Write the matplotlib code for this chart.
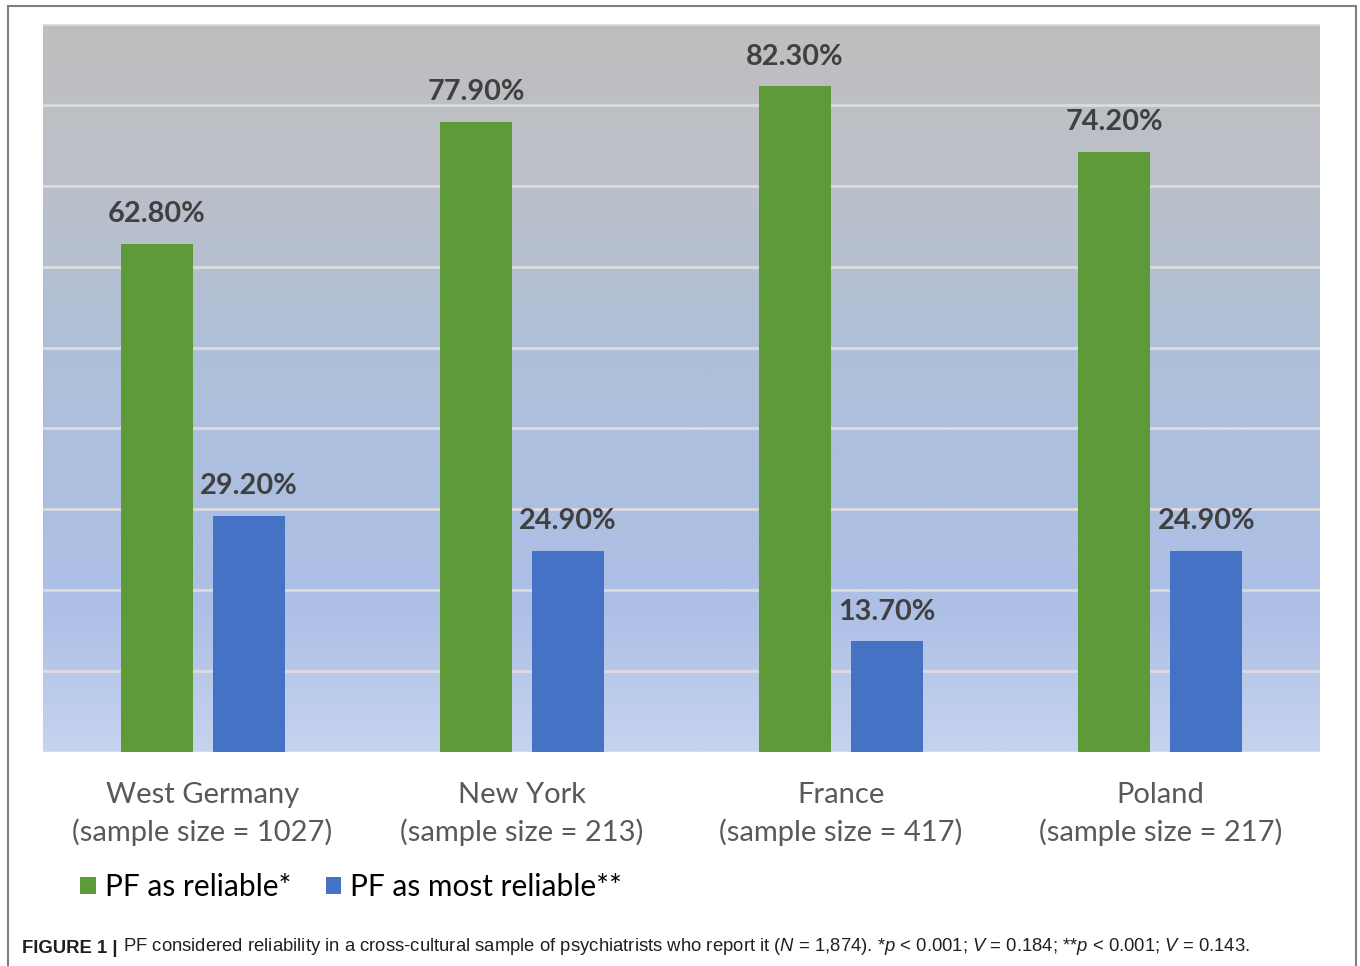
import numpy as np
import matplotlib.pyplot as plt
from matplotlib.colors import LinearSegmentedColormap
from matplotlib.patches import Rectangle

plt.rcParams['mathtext.fontset'] = 'custom'
plt.rcParams['mathtext.rm'] = 'Liberation Sans'
plt.rcParams['mathtext.it'] = 'Liberation Sans:italic'

# Data
regions = ['West Germany', 'New York', 'France', 'Poland']
sample_sizes = [1027, 213, 417, 217]
reliable = [62.8, 77.9, 82.3, 74.2]
most_reliable = [29.2, 24.9, 13.7, 24.9]
series_names = ['PF as reliable*', 'PF as most reliable**']

green = '#5f9a3a'
blue = '#4472c4'
label_font = 'Lato'

fig = plt.figure(figsize=(13.6, 9.66), dpi=100)
ax = fig.add_axes([43 / 1360, 1 - 752 / 966, 1277 / 1360, 728 / 966])

# gradient background (gray top -> blue -> light blue bottom)
cmap = LinearSegmentedColormap.from_list('bg', [
    (0.0, '#c5d3ee'), (0.2, '#adbfe6'), (0.55, '#aebfd8'),
    (0.8, '#bcc0c8'), (1.0, '#bebebe')])
grad = np.linspace(0, 1, 256).reshape(-1, 1)
ax.imshow(grad, cmap=cmap, aspect='auto', origin='lower',
          extent=[-0.5, 3.5, 0, 90], zorder=0)

x = np.arange(len(regions))
w = 0.226
off = 0.144
b1 = ax.bar(x - off, reliable, w, color=green, zorder=3, label=series_names[0])
b2 = ax.bar(x + off, most_reliable, w, color=blue, zorder=3, label=series_names[1])

ax.set_xlim(-0.5, 3.5)
ax.set_ylim(0, 90)
ax.set_yticks(np.arange(0, 91, 10))
ax.yaxis.grid(True, color='#dcdcdc', lw=2, zorder=1)
ax.set_axisbelow(False)
for s in ax.spines.values():
    s.set_visible(False)
ax.tick_params(left=False, bottom=False, labelleft=False)

for bars, vals in [(b1, reliable), (b2, most_reliable)]:
    for bar, v in zip(bars, vals):
        ax.annotate(f'{v:.2f}%', (bar.get_x() + bar.get_width() / 2, v),
                    xytext=(0, 12), textcoords='offset points',
                    ha='center', va='bottom', fontsize=20.8, fontweight='bold',
                    color='#404040', family=label_font, zorder=4)

ax.set_xticks(x)
ax.set_xticklabels([f'{r}\n(sample size = {n})' for r, n in zip(regions, sample_sizes)],
                   fontsize=21, color='#595959', family=label_font,
                   linespacing=1.46)
ax.tick_params(axis='x', pad=18)

leg = fig.legend(handles=[b1, b2], loc='center left', bbox_to_anchor=(80 / 1360, 1 - 887 / 966),
                 ncol=2, frameon=False, prop={'family': label_font, 'size': 21.5},
                 handlelength=0.53, handleheight=0.53, handletextpad=0.3,
                 columnspacing=1.15, borderpad=0, borderaxespad=0)

# outer frame
fig.add_artist(Rectangle((8 / 1360, -0.05), 1348 / 1360, 1.05 - 6 / 966,
                         transform=fig.transFigure, fill=False,
                         edgecolor='#7f7f7f', lw=1.5))

# caption
cap_y = 1 - 957 / 966
t1 = fig.text(22 / 1360, cap_y, 'FIGURE 1 |', fontsize=13.35, fontweight='bold',
              family='Liberation Sans', color='#231f20', va='bottom')
fig.canvas.draw()
ax.annotate('PF considered reliability in a cross-cultural sample of psychiatrists who report it '
            '($N$ = 1,874). *$p$ < 0.001; $V$ = 0.184; **$p$ < 0.001; $V$ = 0.143.',
            xy=(1, 0), xycoords=t1, xytext=(4, 0), textcoords='offset points',
            fontsize=13.35, family='Liberation Sans', color='#231f20',
            va='bottom', ha='left', annotation_clip=False)

fig.savefig('out.png', dpi=100)
